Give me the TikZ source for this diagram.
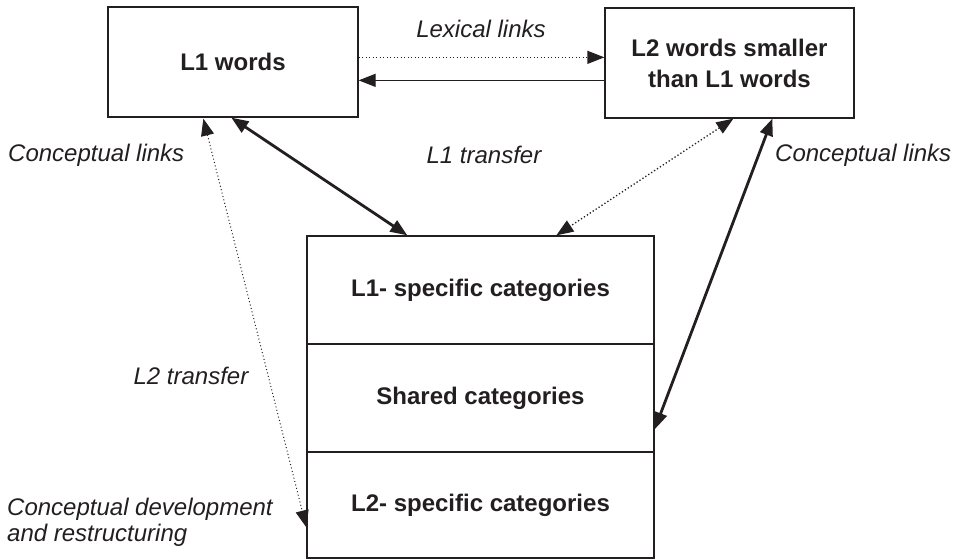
\documentclass[tikz,border=0pt]{standalone}
\usepackage{fontspec}
\setmainfont{Liberation Sans}
\usetikzlibrary{arrows.meta,calc}
\definecolor{ink}{HTML}{231F20}
\tikzset{
  box/.style={draw=ink, line width=1.3pt, rectangle, inner sep=0pt, align=center,
    font=\fontsize{24}{29}\selectfont\bfseries, text=ink},
  lbl/.style={font=\fontsize{24}{26}\selectfont\itshape, text=ink, inner sep=0pt, align=left},
  tip/.style={-{Triangle[length=17pt,width=13pt]}},
  bitip/.style={{Triangle[length=17pt,width=13pt]}-{Triangle[length=17pt,width=13pt]}},
  thinline/.style={draw=ink, line width=1.3pt},
  thickline/.style={draw=ink, line width=2.8pt},
  dotline/.style={draw=ink, line width=1.3pt, dash pattern=on 1.3pt off 2.2pt},
  finedot/.style={draw=ink, line width=1pt, dash pattern=on 1pt off 2.5pt},
}
\begin{document}
\begin{tikzpicture}[x=1pt,y=-1pt]
\useasboundingbox (0,0) rectangle (954,560);
% boxes
\node[box, minimum width=250pt, minimum height=110pt] (l1) at (233,62) {L1 words};
\node[box, minimum width=249pt, minimum height=110pt] (l2) at (729.5,63) {L2 words smaller\\[2pt]than L1 words};
\node[box, minimum width=347pt, minimum height=108pt] (c1) at (480.5,290) {L1- specific categories};
\node[box, minimum width=347pt, minimum height=108pt] (c2) at (480.5,398) {Shared categories};
\node[box, minimum width=347pt, minimum height=106pt] (c3) at (480.5,505) {L2- specific categories};
% labels
\node[lbl] (lex) at (481,29) {Lexical links};
\node[lbl, anchor=west] (cl) at (8,155) {Conceptual links};
\node[lbl] (l1t) at (484,155) {L1 transfer};
\node[lbl, anchor=west] (cr) at (775,155) {Conceptual links};
\node[lbl] (l2t) at (191,376) {L2 transfer};
\node[lbl, anchor=west] (cdr) at (7,522) {Conceptual development\\and restructuring};
% connectors
\draw[dotline, tip] ($(l1.north east)+(0,51)$) -- ($(l2.north west)+(0,50)$);
\draw[thinline, tip] ($(l2.north west)+(0,73)$) -- ($(l1.north east)+(0,74)$);
\draw[thickline, bitip] ($(l1.south west)+(124,0)$) -- ($(c1.north west)+(101,0)$);
\draw[dotline, bitip] ($(l2.south west)+(129,0)$) -- ($(c1.north west)+(250,0)$);
\draw[thickline, bitip] ($(l2.south west)+(168,0)$) -- ($(c2.north east)+(0,86)$);
\draw[finedot, bitip] ($(l1.south west)+(96,1)$) -- ($(c3.north west)+(0,76)$);
\end{tikzpicture}
\end{document}
